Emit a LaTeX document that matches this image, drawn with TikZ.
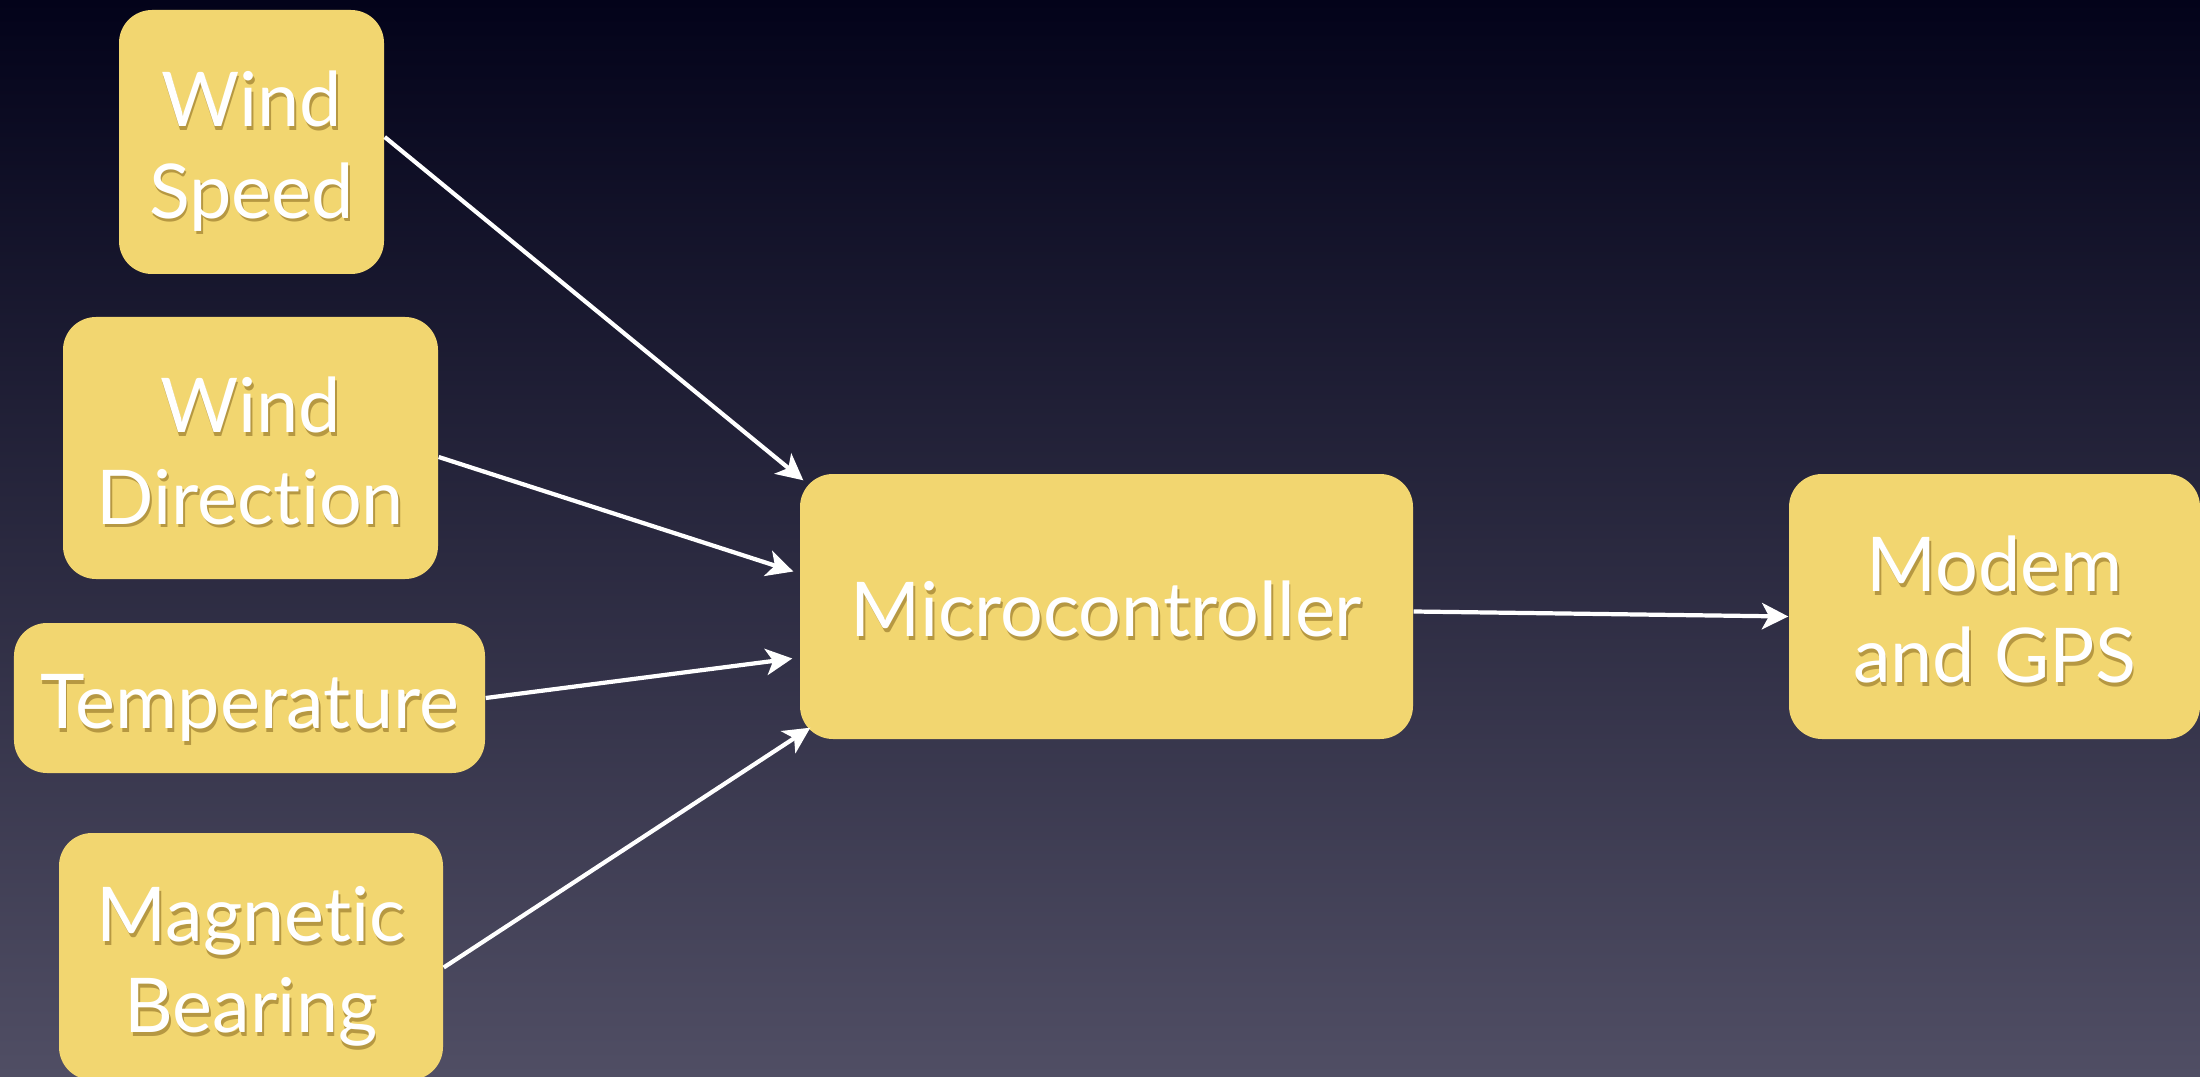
\documentclass[tikz,border=0pt]{standalone}
\usepackage{fontspec}
\setmainfont{Lato}[Ligatures=NoCommon]
\usepackage{xcolor}
\definecolor{NightTop}{RGB}{3,3,26}
\definecolor{NightMid}{RGB}{36,36,62}
\definecolor{NightLow}{RGB}{80,78,100}
\definecolor{BoxYellow}{RGB}{242,214,112}
\definecolor{TextShadow}{RGB}{182,152,66}
\newcommand{\boxtext}[1]{%
  \raisebox{-4pt}[\height][\depth]{%
  \makebox[0pt][l]{\hspace{0.5pt}\raisebox{-1.1pt}{\color{TextShadow}\begin{tabular}{@{}c@{}}#1\end{tabular}}}%
  \begin{tabular}{@{}c@{}}#1\end{tabular}}}
\usetikzlibrary{arrows.meta,calc}

\tikzset{
  block/.style={rectangle, rounded corners=0.33cm, fill=BoxYellow, text=white,
    inner sep=0pt, font=\fontsize{21.5}{26}\selectfont},
  link/.style={draw=white, line width=1.2pt, -{Stealth[length=7.5pt,width=7.5pt,inset=2pt]}},
}

\begin{document}
\begin{tikzpicture}

		% Background
		\useasboundingbox (0,0) rectangle (22,10.76);
		\shade[top color=NightTop, middle color=NightMid, bottom color=NightLow] (0,0) rectangle (22,10.76);

		% Sensors
		\node[block, minimum width=2.65cm, minimum height=2.64cm] (speed)   at (2.515, 9.34) {\boxtext{Wind\\Speed}};
		\node[block, minimum width=3.75cm, minimum height=2.62cm] (dir)     at (2.505, 6.28) {\boxtext{Wind\\Direction}};
		\node[block, minimum width=4.71cm, minimum height=1.50cm] (temp)    at (2.495, 3.78) {\boxtext{Temperature}};
		\node[block, minimum width=3.84cm, minimum height=2.47cm] (bearing) at (2.51, 1.195) {\boxtext{Magnetic\\Bearing}};

		% Controller and modem
		\node[block, minimum width=6.13cm, minimum height=2.65cm] (mcu)   at (11.065, 4.695) {\boxtext{Microcontroller}};
		\node[block, minimum width=4.11cm, minimum height=2.65cm] (modem) at (19.945, 4.695) {\boxtext{Modem\\and GPS}};

		% Links
		\draw[link] ($(speed.east)+(0,0.05)$)    -- ($(mcu.north west)+(0.04,-0.07)$);
		\draw[link] ($(dir.east)+(0,-0.09)$)     -- ($(mcu.west)+(-0.06,0.35)$);
		\draw[link] (temp.east)                  -- ($(mcu.west)+(-0.07,-0.52)$);
		\draw[link] ($(bearing.east)+(0,-0.11)$) -- ($(mcu.south west)+(0.11,0.12)$);
		\draw[link] ($(mcu.east)+(0,-0.05)$)     -- ($(modem.west)+(0,-0.1)$);

\end{tikzpicture}
\end{document}
